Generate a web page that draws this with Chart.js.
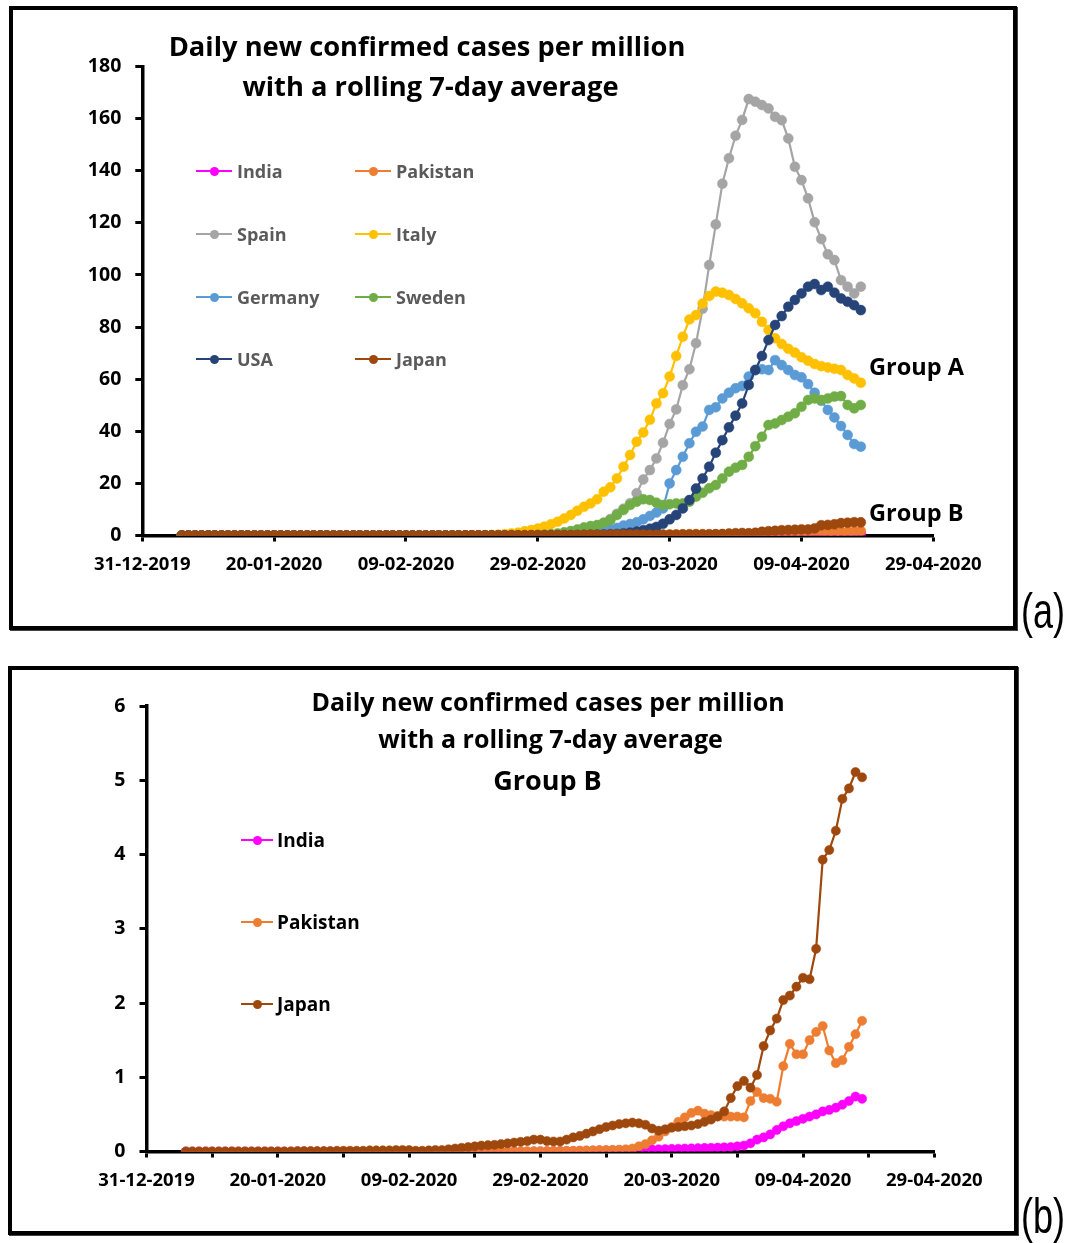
<!DOCTYPE html>
<html><head><meta charset="utf-8">
<script src="https://cdn.jsdelivr.net/npm/chart.js@4.4.1/dist/chart.umd.min.js"></script>
<style>
html,body{margin:0;padding:0;background:#fff;}
body{width:1071px;height:1243px;position:relative;overflow:hidden;font-family:'Open Sans',sans-serif;}
.panel{position:absolute;border:4px solid #000;box-sizing:border-box;box-shadow:1px 1px 0 #444;}
#pa{left:9px;top:6px;width:1008px;height:624px;}
#pb{left:8px;top:666px;width:1010px;height:569px;}
canvas{position:absolute;left:0;}
#ca{top:0;}
#cb{top:640px;}
.txt{position:absolute;font-weight:700;color:#000;white-space:nowrap;line-height:1;}
.ctr{text-align:center;width:700px;}
.leg{position:absolute;display:flex;align-items:center;height:24px;font-weight:700;white-space:nowrap;}
.leg .ln{position:relative;height:2px;}
.leg .dt{position:absolute;width:9px;height:9px;border-radius:50%;top:-3.5px;}
.lab{position:absolute;font-family:'Liberation Sans',sans-serif;font-size:50px;line-height:1;transform:scaleX(0.72);transform-origin:left center;}
</style></head>
<body>
<div class="panel" id="pa"></div>
<div class="panel" id="pb"></div>
<canvas id="ca" width="1071" height="640"></canvas>
<canvas id="cb" width="1071" height="603"></canvas>
<div id="overlay"></div>
<script>
// ---------------- data ----------------
const axisStart = '2019-12-31';
const firstDate = '2020-01-06';
const xTickLabels = ['31-12-2019','20-01-2020','09-02-2020','29-02-2020','20-03-2020','09-04-2020','29-04-2020'];
const yTicksA = [0,20,40,60,80,100,120,140,160,180];
const yTicksB = [0,1,2,3,4,5,6];
const countries = ['India','Pakistan','Spain','Italy','Germany','Sweden','USA','Japan'];
const groupB = ['India','Pakistan','Japan'];
const colors = ['#FF00FF','#ED7D31','#A5A5A5','#FFC000','#5B9BD5','#70AD47','#264478','#9E480E'];

// daily values, one per day from firstDate (06-01-2020) to 18-04-2020
const india = [
0,0,0,0,0,0,0,0,0,0, 0,0,0,0,0,0,0,0,0,0, 0,0,0,0,0,0,0,0,0,0,
0,0,0,0,0,0,0,0,0,0, 0,0,0,0,0,0,0,0,0,0, 0,0,0,0,
0,0.002,0.003,0.004,0.005,0.006,0.008,0.01,0.012,0.014,
0.015,0.016,0.017,0.018,0.02,0.022,0.025,0.028,0.03,0.032,
0.035,0.037,0.04,0.042,0.045,0.048,0.05,0.053,0.056,0.06,
0.07,0.08,0.11,0.16,0.19,0.23,0.29,0.34,0.38,0.41,
0.44,0.47,0.5,0.54,0.56,0.59,0.63,0.68,0.74,0.71];
const pakistan = [
0,0,0,0,0,0,0,0,0,0, 0,0,0,0,0,0,0,0,0,0, 0,0,0,0,0,0,0,0,0,0,
0,0,0,0,0,0,0,0,0,0, 0,0,0,0,0,0,0,0,0,0, 0,0.002,0.003,0.004,
0.005,0.006,0.007,0.008,0.009,0.01,0.012,0.014,0.016,0.018,
0.02,0.022,0.025,0.03,0.04,0.07,0.1,0.15,0.2,0.27,
0.33,0.4,0.46,0.52,0.55,0.51,0.49,0.48,0.47,0.47,
0.47,0.46,0.68,0.8,0.72,0.71,0.67,1.15,1.45,1.31,
1.31,1.5,1.61,1.69,1.36,1.19,1.23,1.41,1.58,1.76];
const spain = [
0,0,0,0,0,0,0,0,0,0, 0,0,0,0,0,0,0,0,0,0, 0,0,0,0,0,0,0,0,0,0,
0,0,0,0,0,0,0,0,0,0, 0,0,0,0,0,0,0,0,0,0, 0,0,0,0,
0.1,0.2,0.3,0.4,0.6,0.9,1.3,1.9,2.7,3.6,
4.8,6.3,8.3,10.3,12.4,16.2,21.5,25.1,29.6,35.6,
42.8,48.4,57.7,63.8,73.8,87,103.8,119.4,135,144.8,
153.4,159.5,167.5,166.5,165.2,163.9,160.7,159.4,152.4,141.5,
136.4,129.4,120.2,113.8,107.9,105.7,98,95.5,92.9,95.5];
const italy = [
0,0,0,0,0,0,0,0,0,0, 0,0,0,0,0,0,0,0,0,0, 0,0,0,0,0,0,0,0,0,0,
0,0,0,0,0,0,0,0,0,0, 0,0,0,0,0,0,0.05,0.15,0.3,0.5, 0.8,1.1,1.6,2.1,
2.7,3.4,4.3,5.3,6.5,7.9,9.5,11,12.3,13.9,
16.8,18.5,21.9,26.4,30.9,36,39.5,44.4,50.7,54.6,
61,68.9,76.3,82.9,84.6,89,91.9,93.6,93.2,92.3,
90.8,89.1,87.2,85.3,82,78.9,75.7,73.5,71.7,70.2,
68.4,67.1,65.8,65,64.5,64,63.5,61.6,60.3,58.6];
const germany = [
0,0,0,0,0,0,0,0,0,0, 0,0,0,0,0,0,0,0,0,0, 0,0,0,0,0,0,0,0,0,0,
0,0,0,0,0,0,0,0,0,0, 0,0,0,0,0,0,0,0,0,0, 0,0,0,0,
0.1,0.15,0.2,0.3,0.4,0.5,0.7,0.9,1.1,1.4,
1.8,2.3,2.9,3.8,4.4,5.1,6.2,7.5,8.8,10.4,
20,25.1,30.2,35.4,39.8,41.8,48.2,49.2,52.6,54.8,
56.5,57.4,61,63.5,63.8,63.5,67.3,65.4,63.5,61.6,
60.7,58.1,54.8,51.7,48.2,45.3,42,38.6,35.1,34.1];
const sweden = [
0,0,0,0,0,0,0,0,0,0, 0,0,0,0,0,0,0,0,0,0, 0,0,0,0,0,0,0,0,0,0,
0,0,0,0,0,0,0,0,0,0, 0,0,0,0,0,0,0,0,0,0, 0,0,0,0,
0.2,0.3,0.5,0.8,1.2,1.7,2.3,3.1,3.6,4,
4.9,5.9,7.9,9.8,11.7,13,13.9,13.6,12.6,11.7,
12,12.3,12.3,13,14.9,16.4,18.1,19.4,21.9,24.5,
26,27.1,30.2,34.3,37.9,42.4,43,44.3,45.6,46.9,
49.4,52,52.6,52,52.6,53.3,53.5,50.1,48.8,50.1];
const usa = [
0,0,0,0,0,0,0,0,0,0, 0,0,0,0,0,0,0,0,0,0, 0,0,0,0,0,0,0,0,0,0,
0,0,0,0,0,0,0,0,0,0, 0,0,0,0,0,0,0,0,0,0, 0,0,0,0,
0,0,0.05,0.05,0.1,0.1,0.15,0.2,0.25,0.3,
0.4,0.5,0.6,0.8,1.1,1.5,2,2.6,3.3,4.5,
6.2,7.9,10.4,13.6,18,21.9,26.4,31.8,36.6,41.5,
46,50.7,57.8,63.5,68.9,75,80.8,84.2,87.8,90.4,
92.9,95.5,96.5,94.2,95.5,93.2,91,89.7,88.4,86.5];
const japan = [
0,0,0,0,0,0,0,0,0,0, 0,0,0,0,0,
0,0,0.005,0.005,0.005,0.005,0.005,0.005,0.01,0.01,
0.01,0.01,0.01,0.015,0.015,0.015,0.015,0.02,0.02,0.02,
0.01,0.01,0.015,0.02,0.02,0.03,0.04,0.05,0.06,0.07,
0.08,0.085,0.09,0.1,0.11,0.12,0.13,0.14,0.16,
0.16,0.14,0.135,0.135,0.16,0.19,0.21,0.24,0.27,0.3,
0.33,0.35,0.37,0.38,0.39,0.38,0.36,0.31,0.28,0.3,
0.32,0.33,0.34,0.35,0.37,0.4,0.43,0.47,0.54,0.72,
0.88,0.95,0.86,1.03,1.42,1.63,1.79,2.04,2.1,2.22,
2.34,2.32,2.73,3.93,4.06,4.32,4.75,4.89,5.11,5.04];

const seriesValues = [india,pakistan,spain,italy,germany,sweden,usa,japan];

// ---------------- build ----------------
const DAY = 86400000;
const firstOffset = Math.round((Date.parse(firstDate) - Date.parse(axisStart)) / DAY);
const xMax = (xTickLabels.length - 1) * 20;

function makeDatasets(names, radius){
  return names.map((name) => {
    const i = countries.indexOf(name);
    const vals = seriesValues[i];
    return {
      label: name,
      data: vals.map((v, k) => ({x: firstOffset + k, y: v})),
      borderColor: colors[i], backgroundColor: colors[i],
      pointBackgroundColor: colors[i], pointBorderColor: colors[i],
      borderWidth: 2.2, pointRadius: radius, pointBorderWidth: 0.5,
      order: names.length - names.indexOf(name),
      tension: 0
    };
  });
}

const tickFont = {family:'Open Sans', weight:'bold', size:18.5};
function xScale(step, height){
  return {
    type:'linear', min:0, max:xMax, offset:false,
    afterBuildTicks: (s) => { const t=[]; for (let v=0; v<=xMax; v+=step) t.push({value:v}); s.ticks = t; },
    ticks:{autoSkip:false, maxRotation:0, minRotation:0, color:'#000', font:tickFont, padding:12,
      callback:(v)=> (v % 20 === 0) ? xTickLabels[v/20] : ''},
    grid:{drawOnChartArea:false, drawTicks:true, tickLength:6, tickWidth:3, tickColor:'#000'},
    border:{display:true, color:'#000', width:3.5},
    afterFit:(s)=>{ s.height = height; }
  };
}
function yScale(ticksArr, width, fsize){
  return {
    min:ticksArr[0], max:ticksArr[ticksArr.length-1],
    afterBuildTicks: (s) => { s.ticks = ticksArr.map(v=>({value:v})); },
    ticks:{color:'#000', font:{family:'Open Sans', weight:'bold', size:fsize}, padding:14},
    grid:{drawOnChartArea:false, drawTicks:true, tickLength:7, tickWidth:3, tickColor:'#000'},
    border:{display:true, color:'#000', width:3.5},
    afterFit:(s)=>{ s.width = width; }
  };
}

new Chart(document.getElementById('ca'), {
  type:'line',
  data:{datasets: makeDatasets(countries, 5)},
  options:{
    responsive:false, animation:false, devicePixelRatio:1,
    layout:{padding:{left:0, right:1071-933.3, top:66.5, bottom:640-535.5-45}},
    plugins:{legend:{display:false}, tooltip:{enabled:false}},
    scales:{x:xScale(20,45), y:yScale(yTicksA,142.3,19.5)}
  }
});
new Chart(document.getElementById('cb'), {
  type:'line',
  data:{datasets: makeDatasets(groupB, 4.6)},
  options:{
    responsive:false, animation:false, devicePixelRatio:1,
    layout:{padding:{left:0, right:1071-934.3, top:66, bottom:603-511.5-45}},
    plugins:{legend:{display:false}, tooltip:{enabled:false}},
    scales:{x:xScale(10,45), y:yScale(yTicksB,146.5,19.5)}
  }
});

// ---------------- overlay text ----------------
const ov = document.getElementById('overlay');
function addText(txt, cx, cy, size, opts={}){
  const d = document.createElement('div');
  d.className = 'txt' + (opts.center ? ' ctr' : '');
  d.textContent = txt;
  d.style.fontSize = size + 'px';
  d.style.top = (cy - size*0.55) + 'px';
  d.style.left = (opts.center ? cx - 350 : cx) + 'px';
  if (opts.color) d.style.color = opts.color;
  ov.appendChild(d);
}
addText('Daily new confirmed cases per million', 427, 47, 27.3, {center:true});
addText('with a rolling 7-day average', 430.5, 87, 27.3, {center:true});
addText('Group A', 869, 368, 23.5);
addText('Group B', 869, 514, 23.5);
addText('Daily new confirmed cases per million', 548, 703, 25, {center:true});
addText('with a rolling 7-day average', 550.5, 740, 25, {center:true});
addText('Group B', 547.5, 781, 27, {center:true});

function addLegend(name, x, cy, lineW, gap, size, textColor){
  const i = countries.indexOf(name);
  const d = document.createElement('div');
  d.className = 'leg';
  d.style.left = x + 'px'; d.style.top = (cy - 12) + 'px';
  d.style.fontSize = size + 'px'; d.style.color = textColor;
  const ln = document.createElement('span'); ln.className = 'ln';
  ln.style.width = lineW + 'px'; ln.style.background = colors[i];
  const dt = document.createElement('span'); dt.className = 'dt';
  dt.style.background = colors[i]; dt.style.left = (lineW/2 - 4.5) + 'px';
  ln.appendChild(dt);
  const t = document.createElement('span'); t.textContent = name; t.style.marginLeft = gap + 'px';
  d.appendChild(ln); d.appendChild(t);
  ov.appendChild(d);
}
const legRowsA = [171,234,297,359];
const legColsA = [196,355];
countries.forEach((c, k) => addLegend(c, legColsA[k%2], legRowsA[Math.floor(k/2)], 36, 5, 18, '#5a5a5a'));
const legRowsB = [840,922,1004];
groupB.forEach((c, k) => addLegend(c, 241, legRowsB[k], 32, 4, 19, '#000'));

function addLab(txt, x, cy){
  const d = document.createElement('div'); d.className = 'lab'; d.textContent = txt;
  d.style.left = x + 'px'; d.style.top = (cy - 27) + 'px'; ov.appendChild(d);
}
addLab('(a)', 1021, 613);
addLab('(b)', 1021, 1218);
</script>
</body></html>
